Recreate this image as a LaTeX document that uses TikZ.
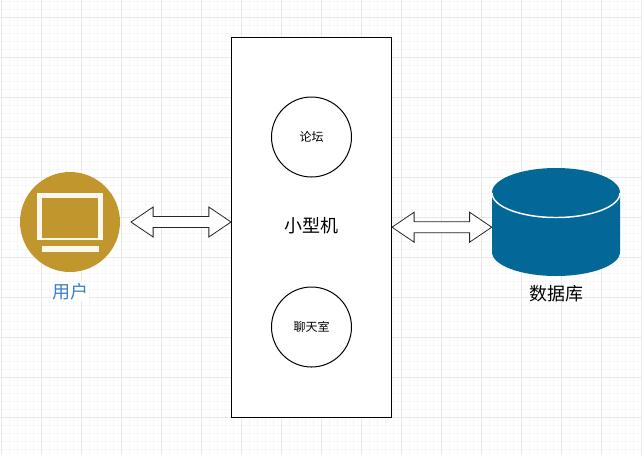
\documentclass[tikz,border=0pt]{standalone}
\usepackage{fontspec}
\usepackage{xcolor}
\usepackage{tikz}
\usetikzlibrary{arrows.meta, positioning, calc}
\newfontfamily\cjk{Noto Sans CJK SC}
\definecolor{usergold}{HTML}{C1972D}
\definecolor{dbblue}{HTML}{036897}
\definecolor{userblue}{HTML}{3C7FC4}
\definecolor{gridmajor}{HTML}{E8E8E8}
\definecolor{gridminor}{HTML}{F7F7F7}

\begin{document}
\begin{tikzpicture}[
    x=0.75pt, y=-0.75pt,
    hub/.style={draw, line width=0.75pt, fill=white, minimum width=120pt, minimum height=285pt},
    service/.style={draw, circle, line width=0.75pt, fill=white, minimum size=60pt, inner sep=0pt, font=\cjk\fontsize{9}{10}\selectfont},
    caption/.style={font=\cjk\fontsize{13.5}{15}\selectfont, inner sep=1pt},
    blockarr/.style={draw=black!85, line width=0.6pt, fill=white, line join=miter, to path={
      let \p1=(\tikztostart), \p2=(\tikztotarget) in
      (\p1) -- (\x1+16.6pt,\y1+11.25pt) -- (\x1+16.6pt,\y1+4.1pt) -- (\x2-16.6pt,\y1+4.1pt)
      -- (\x2-16.6pt,\y1+11.25pt) -- (\p2) -- (\x2-16.6pt,\y1-11.25pt) -- (\x2-16.6pt,\y1-4.1pt)
      -- (\x1+16.6pt,\y1-4.1pt) -- (\x1+16.6pt,\y1-11.25pt) -- cycle}},
  ]
    \useasboundingbox (0,0) rectangle (642,455);

    % grid
    \foreach \gx in {1,9,...,641} \draw[gridminor, line width=0.6pt] (\gx,0) -- (\gx,455);
    \foreach \gy in {1,9,...,449} \draw[gridminor, line width=0.6pt] (0,\gy) -- (642,\gy);
    \foreach \gx in {1,41,...,641} \draw[gridmajor, line width=0.75pt] (\gx,0) -- (\gx,455);
    \foreach \gy in {17,57,...,449} \draw[gridmajor, line width=0.75pt] (0,\gy) -- (642,\gy);

    \node[hub] (host) at (311.5,227.2) {};
    \node[caption] (hostlabel) at (311,226) {小型机};
    \node[service] (forum) at (311.5,137) {论坛};
    \node[service] (chat) at (311.5,327) {聊天室};

    % user icon
    \node[circle, fill=usergold, minimum size=75pt, inner sep=0pt] (user) at (70,222) {};
    \fill[white!92!usergold] (36.7,192.7) rectangle (103.3,239.7);
    \fill[usergold] (41.7,197.7) rectangle (98.3,237.8);
    \fill[white!92!usergold] (41.7,246.3) rectangle (99,251.7);
    \node[caption, text=userblue, fill=white, below=7pt of user] (userlabel) {用户};

    % database
    \node[minimum width=96pt, minimum height=81pt, inner sep=0pt] (db) at (556,222) {};
    \fill[dbblue] (492,192.5) arc[start angle=180, end angle=360, x radius=64, y radius=24.5]
      -- (620,252) arc[start angle=0, end angle=180, x radius=64, y radius=24] -- cycle;
    \draw[white, line width=1.1pt] (492,193) arc[start angle=180, end angle=0, x radius=64, y radius=24.5];
    \node[caption, below=5.5pt of db] (dblabel) {数据库};

    \coordinate (userend) at (131,222);
    \coordinate (hubleft) at (host.west |- user.east);
    \coordinate (dbend) at (host.east -| db.west);

    \draw[blockarr] (userend) to (hubleft);
    \draw[blockarr] (host.east) to (dbend);
  \end{tikzpicture}
\end{document}
